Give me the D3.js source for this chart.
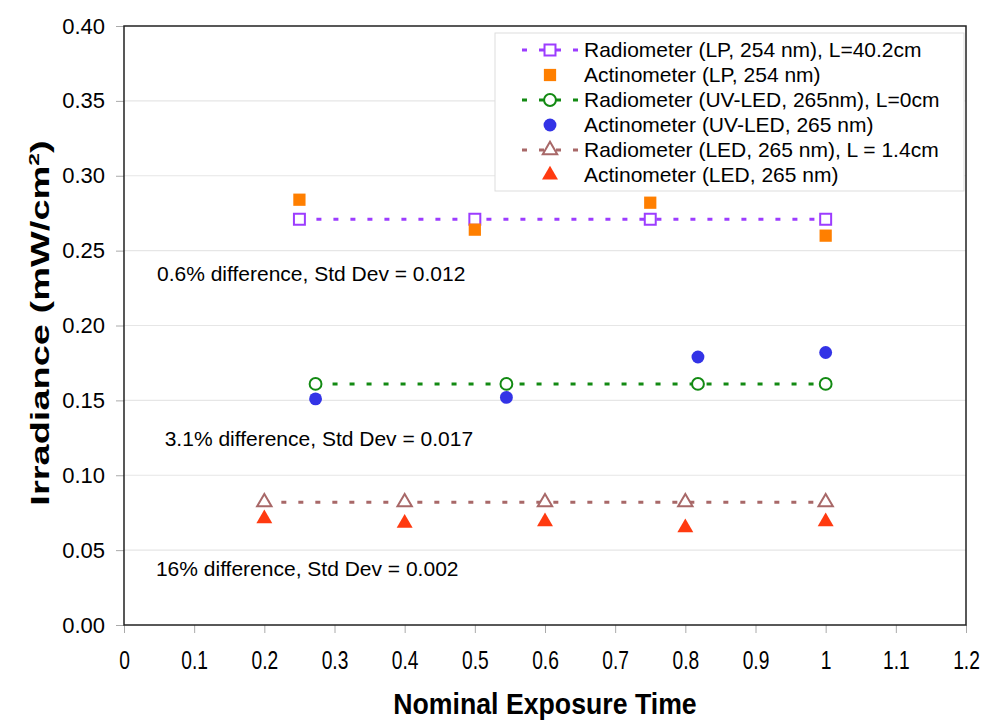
<!DOCTYPE html>
<html>
<head>
<meta charset="utf-8">
<script src="https://cdn.jsdelivr.net/npm/d3@7"></script>
<style>
  body { margin: 0; background: #fff; }
  text { font-family: "Liberation Sans", Arial, sans-serif; fill: #000; }
</style>
</head>
<body>
<div id="chart"></div>
<script>
// ---------------------------------------------------------
// DATA
// ---------------------------------------------------------

// LP lamp, 254 nm
var lpTimes = [0.25, 0.5, 0.75, 1.0];
var lpRadiometer = [0.271, 0.271, 0.271, 0.271];
var lpActinometer = [0.284, 0.264, 0.282, 0.260];

// UV-LED, 265 nm
var uvTimes = [0.273, 0.545, 0.818, 1.0];
var uvRadiometer = [0.161, 0.161, 0.161, 0.161];
var uvActinometer = [0.151, 0.152, 0.179, 0.182];

// LED, 265 nm
var ledTimes = [0.2, 0.4, 0.6, 0.8, 1.0];
var ledRadiometer = [0.082, 0.082, 0.082, 0.082, 0.082];
var ledActinometer = [0.071, 0.068, 0.069, 0.065, 0.069];

var xTicks = [0, 0.1, 0.2, 0.3, 0.4, 0.5, 0.6, 0.7, 0.8, 0.9, 1, 1.1, 1.2];
var yTicks = [0, 0.05, 0.10, 0.15, 0.20, 0.25, 0.30, 0.35, 0.40];

var notes = [
  { text: "0.6% difference, Std Dev = 0.012", x: 0.047, y: 0.2295 },
  { text: "3.1% difference, Std Dev = 0.017", x: 0.058, y: 0.1195 },
  { text: "16% difference, Std Dev = 0.002", x: 0.0455, y: 0.033 }
];

var legendLabels = [
  "Radiometer (LP, 254 nm), L=40.2cm",
  "Actinometer (LP, 254 nm)",
  "Radiometer (UV-LED, 265nm), L=0cm",
  "Actinometer (UV-LED, 265 nm)",
  "Radiometer (LED, 265 nm), L = 1.4cm",
  "Actinometer (LED, 265 nm)"
];

// ---------------------------------------------------------
// SET UP
// ---------------------------------------------------------

var svgWidth = 985;
var svgHeight = 723;

var margin = { top: 26, right: 19, bottom: 98, left: 124 };
var width = svgWidth - margin.left - margin.right;
var height = svgHeight - margin.top - margin.bottom;

var svg = d3.select("#chart")
  .append("svg")
  .attr("width", svgWidth)
  .attr("height", svgHeight);

var chartGroup = svg.append("g")
  .attr("transform", `translate(${margin.left}, ${margin.top})`);

var xScale = d3.scaleLinear().domain([0, 1.2]).range([0, width]);
var yScale = d3.scaleLinear().domain([0, 0.4]).range([height, 0]);

// gridlines
chartGroup.append("g")
  .selectAll("line")
  .data(yTicks.slice(1, -1))
  .enter()
  .append("line")
  .attr("x1", 0)
  .attr("x2", width)
  .attr("y1", d => yScale(d))
  .attr("y2", d => yScale(d))
  .attr("stroke", "#e6e6e6")
  .attr("stroke-width", 1.2);

// axes
var bottomAxis = d3.axisBottom(xScale)
  .tickValues(xTicks)
  .tickSize(8)
  .tickPadding(0)
  .tickFormat(d3.format("~g"));
var leftAxis = d3.axisLeft(yScale)
  .tickValues(yTicks)
  .tickSize(8)
  .tickPadding(11)
  .tickFormat(d3.format(".2f"));

var xAxis = chartGroup.append("g")
  .attr("transform", `translate(0, ${height})`)
  .call(bottomAxis);
var yAxis = chartGroup.append("g").call(leftAxis);

[xAxis, yAxis].forEach(function(ax) {
  ax.select(".domain").remove();
  ax.selectAll(".tick line").attr("stroke", "#aaa");
  ax.selectAll("text").attr("fill", "#000");
});
yAxis.selectAll("text").style("font-size", "22px");

// x tick labels are drawn narrow and tall in the original
xAxis.selectAll("text")
  .style("font-size", "24px")
  .attr("dy", null)
  .attr("y", 0)
  .attr("transform", "translate(0, 44) scale(0.8, 1.05)");

// plot border
chartGroup.append("rect")
  .attr("x", 0)
  .attr("y", 0)
  .attr("width", width)
  .attr("height", height)
  .attr("fill", "none")
  .attr("stroke", "#222")
  .attr("stroke-width", 1.5);

// axis titles
svg.append("text")
  .attr("text-anchor", "middle")
  .attr("font-weight", "bold")
  .style("font-size", "29px")
  .attr("transform", `translate(${margin.left + width / 2}, 714) scale(0.92, 1)`)
  .text("Nominal Exposure Time");

var yTitle = svg.append("text")
  .attr("transform", "translate(49, 323) rotate(-90) scale(1.52, 1)")
  .attr("text-anchor", "middle")
  .attr("font-weight", "bold")
  .style("font-size", "25px");
yTitle.append("tspan").text("Irradiance (mW/cm");
yTitle.append("tspan").attr("dy", -10).style("font-size", "15px").text("2");
yTitle.append("tspan").attr("dy", 10).text(")");

// ---------------------------------------------------------
// SERIES
// ---------------------------------------------------------

var series = [
  { xs: lpTimes, ys: lpRadiometer, color: "#9c3cff", shape: d3.symbolSquare, size: 120, open: true, line: true },
  { xs: lpTimes, ys: lpActinometer, color: "#ff7f00", shape: d3.symbolSquare, size: 150, open: false },
  { xs: uvTimes, ys: uvRadiometer, color: "#138a13", shape: d3.symbolCircle, size: 110, open: true, line: true },
  { xs: uvTimes, ys: uvActinometer, color: "#3333e6", shape: d3.symbolCircle, size: 130, open: false },
  { xs: ledTimes, ys: ledRadiometer, color: "#a86868", shape: d3.symbolTriangle, size: 90, open: true, line: true },
  { xs: ledTimes, ys: ledActinometer, color: "#ff3a10", shape: d3.symbolTriangle, size: 110, open: false }
];

var lineGen = d3.line().x(d => xScale(d[0])).y(d => yScale(d[1]));

series.forEach(function(s) {
  var pts = s.xs.map((x, i) => [x, s.ys[i]]);
  if (s.line) {
    chartGroup.append("path")
      .attr("d", lineGen(pts))
      .attr("fill", "none")
      .attr("stroke", s.color)
      .attr("stroke-width", 3)
      .attr("stroke-dasharray", "5,12");
  }
  chartGroup.selectAll(null)
    .data(pts)
    .enter()
    .append("path")
    .attr("transform", d => `translate(${xScale(d[0])}, ${yScale(d[1])})`)
    .attr("d", d3.symbol().type(s.shape).size(s.size))
    .attr("fill", s.open ? "#fff" : s.color)
    .attr("stroke", s.open ? s.color : "none")
    .attr("stroke-width", 2);
});

// annotations
chartGroup.selectAll(null)
  .data(notes)
  .enter()
  .append("text")
  .attr("x", d => xScale(d.x))
  .attr("y", d => yScale(d.y))
  .style("font-size", "21px")
  .text(d => d.text);

// ---------------------------------------------------------
// LEGEND
// ---------------------------------------------------------

var legend = svg.append("g").attr("transform", "translate(495, 33)");
legend.append("rect")
  .attr("width", 469)
  .attr("height", 158)
  .attr("fill", "#fff")
  .attr("stroke", "#ddd");

var rows = legend.selectAll("g.row")
  .data(series)
  .enter()
  .append("g")
  .attr("class", "row")
  .attr("transform", (d, i) => `translate(0, ${17 + i * 25})`);

rows.filter(d => d.line)
  .append("line")
  .attr("x1", 27)
  .attr("x2", 86)
  .attr("stroke", d => d.color)
  .attr("stroke-width", 3)
  .attr("stroke-dasharray", "5,12");

rows.append("path")
  .attr("transform", "translate(55, 0)")
  .attr("d", d => d3.symbol().type(d.shape).size(d.size)())
  .attr("fill", d => d.open ? "#fff" : d.color)
  .attr("stroke", d => d.open ? d.color : "none")
  .attr("stroke-width", 2);

rows.append("text")
  .attr("x", 89)
  .attr("y", 7)
  .style("font-size", "21px")
  .text((d, i) => legendLabels[i]);
</script>
</body>
</html>
